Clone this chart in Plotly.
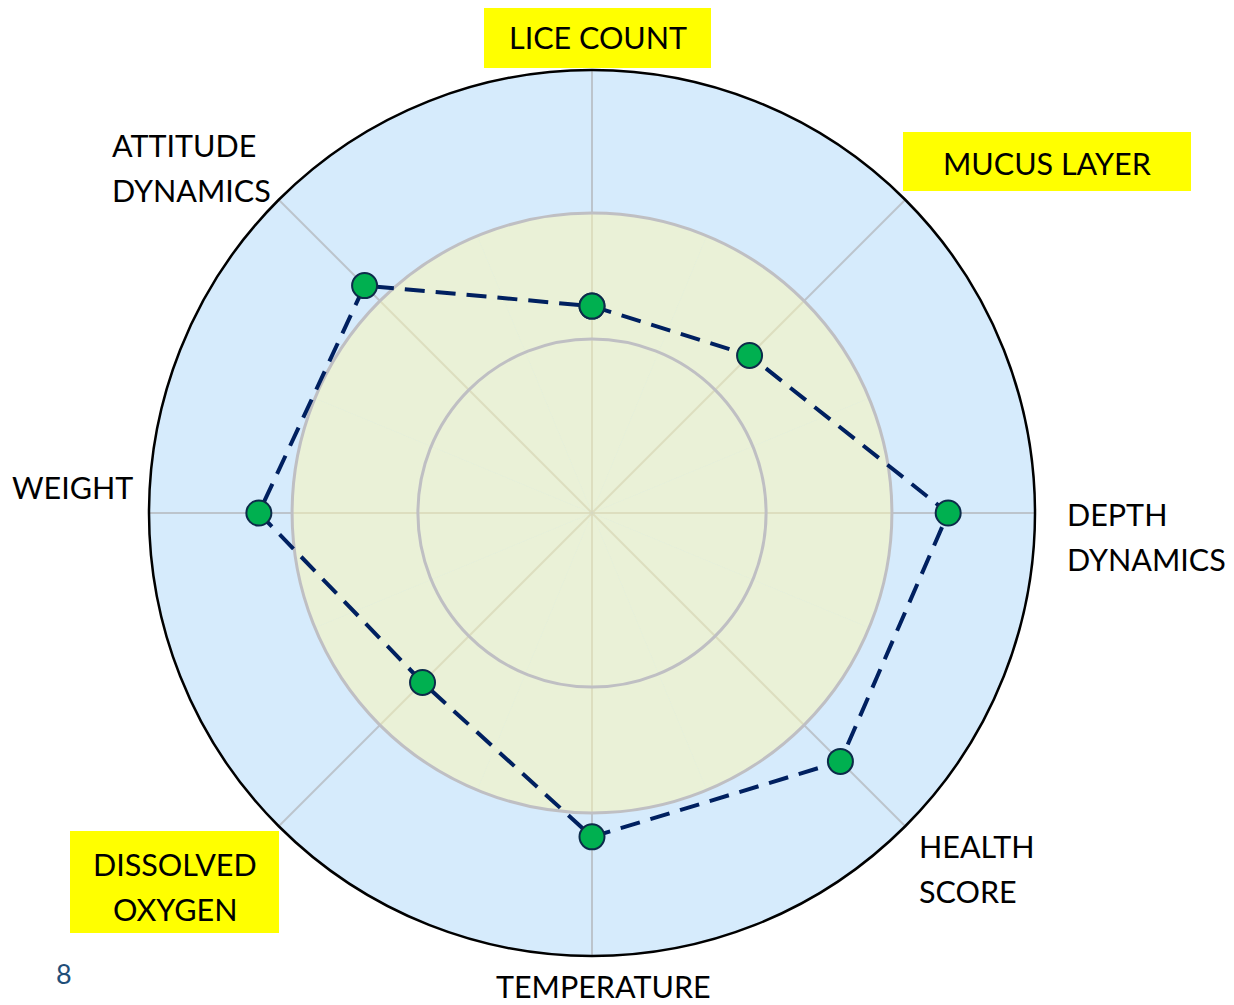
import plotly.graph_objects as go

categories = ["LICE COUNT", "MUCUS LAYER", "DEPTH DYNAMICS", "HEALTH SCORE",
              "TEMPERATURE", "DISSOLVED OXYGEN", "WEIGHT", "ATTITUDE DYNAMICS"]
values = [4.67, 5.03, 8.04, 7.93, 7.31, 5.41, 7.52, 7.26]
band_outer = 6.77      # light-green zone boundary
inner_ring = 3.93      # inner gray ring
r_max = 10

label_lines = [["LICE COUNT"], ["MUCUS LAYER"], ["DEPTH", "DYNAMICS"], ["HEALTH", "SCORE"],
               ["TEMPERATURE"], ["DISSOLVED", "OXYGEN"], ["WEIGHT"], ["ATTITUDE", "DYNAMICS"]]
highlighted = [True, True, False, False, False, True, False, False]

W, H = 1234, 1005
OFF = 8   # page body margin
cx, cy, R = 592 - OFF, 513 - OFF, 443
FS = 30.5

fig = go.Figure()

# green zone (bottom polar)
fig.add_trace(go.Barpolar(
    r=[band_outer] * len(categories), theta=categories, width=[1] * len(categories),
    marker=dict(color="rgba(254,247,178,0.5)", line=dict(width=0)),
    hoverinfo="skip", subplot="polar", showlegend=False))

# data (top polar)
fig.add_trace(go.Scatterpolar(
    r=values + values[:1], theta=categories + categories[:1],
    mode="lines+markers",
    line=dict(color="#002060", width=4, dash="20px,11px"),
    marker=dict(size=25, color="#00B050", line=dict(color="#0D2B4A", width=2)),
    subplot="polar2", showlegend=False))

dom_x = [(cx - R) / W, (cx + R) / W]
dom_y = [(H - cy - R) / H, (H - cy + R) / H]

fig.update_layout(
    width=W, height=H, margin=dict(l=0, r=0, t=0, b=0),
    paper_bgcolor="white", font=dict(family="Lato", size=FS, color="black"),
    polar=dict(
        domain=dict(x=dom_x, y=dom_y), bgcolor="#D6EBFC", bargap=0,
        radialaxis=dict(range=[0, r_max], showgrid=False, showline=False,
                        showticklabels=False, ticks=""),
        angularaxis=dict(categoryorder="array", categoryarray=categories,
                         direction="clockwise", rotation=90, showline=False,
                         showticklabels=False, ticks="", gridcolor="#BCC4CC", gridwidth=1.5),
    ),
    polar2=dict(
        domain=dict(x=dom_x, y=dom_y), bgcolor="rgba(0,0,0,0)",
        radialaxis=dict(range=[0, r_max], tickvals=[inner_ring, band_outer],
                        showgrid=True, gridcolor="#BFBFC3", gridwidth=3,
                        showline=False, showticklabels=False, ticks=""),
        angularaxis=dict(categoryorder="array", categoryarray=categories,
                         direction="clockwise", rotation=90, showgrid=False,
                         showline=True, linecolor="black", linewidth=2.5,
                         showticklabels=False, ticks=""),
    ),
)

# label placement (reference pixels): anchor x, first-line y, anchor, yellow box (x0, y0, x1, y1)
placements = [
    (597.5, 37, "center", (484, 5, 711, 68)),
    (1047, 163, "center", (903, 132, 1191, 191)),
    (1065, 514, "left", None),
    (917, 846, "left", None),
    (603, 986, "center", None),
    (175, 864, "center", (70, 831, 279, 933)),
    (135, 487, "right", None),
    (110, 145, "left", None),
]
line_step = 44.5

def fx(px):
    return (px - OFF) / W

def fy(py):
    return 1 - (py - OFF) / H

for lines, hl, (px, py, anc, box) in zip(label_lines, highlighted, placements):
    if hl and box:
        x0, y0, x1, y1 = box
        fig.add_shape(type="rect", xref="paper", yref="paper",
                      x0=fx(x0), x1=fx(x1), y0=fy(y1), y1=fy(y0),
                      fillcolor="#FFFF00", line=dict(width=0), layer="below")
    for i, ln in enumerate(lines):
        fig.add_annotation(x=fx(px), y=fy(py + i * line_step), xref="paper", yref="paper",
                           text=ln, showarrow=False, xanchor=anc, yanchor="middle",
                           font=dict(family="Lato", size=FS, color="black"))

fig.add_annotation(x=fx(64), y=fy(973), xref="paper", yref="paper", text="8",
                   showarrow=False, xanchor="center", yanchor="middle",
                   font=dict(family="Lato", size=27, color="#1F4E79"))

fig.write_html("out.html")
